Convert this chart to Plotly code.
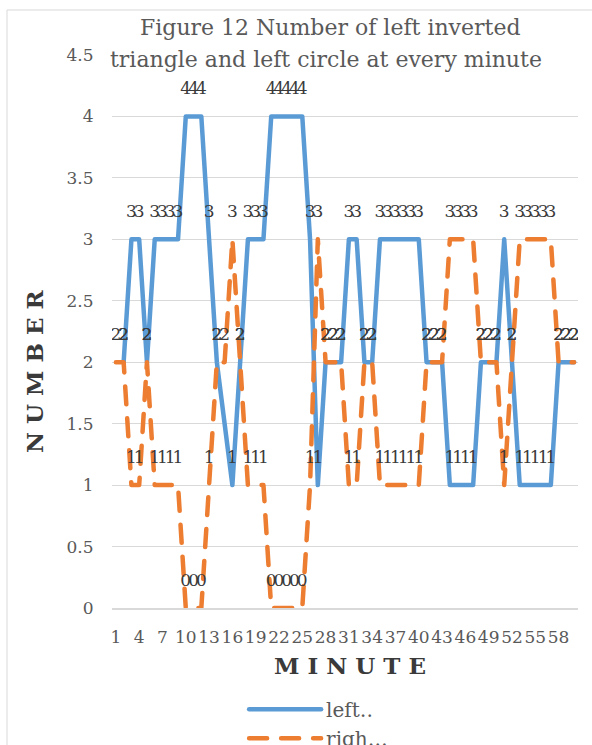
import plotly.graph_objects as go

# Counts per minute (1..60); None = no observation for that minute
minutes = list(range(1, 61))
left_counts = [None, 2, 3, 3, 2, 3, 3, 3, 3, 4,
               4, 4, 3, 2, None, 1, 2, 3, 3, 3,
               4, 4, 4, 4, 4, 3, 1, 2, 2, 2,
               3, 3, 2, 2, 3, 3, 3, 3, 3, 3,
               2, 2, 2, 1, 1, 1, 1, 2, 2, 2,
               3, 2, 1, 1, 1, 1, 1, 2, 2, 2]
right_counts = [2, 2, 1, 1, 2, 1, 1, 1, 1, 0,
                0, 0, 1, 2, 2, 3, 2, 1, 1, 1,
                0, 0, 0, 0, 0, 1, 3, 2, 2, 2,
                1, 1, 2, 2, 1, 1, 1, 1, 1, 1,
                2, 2, 2, 3, 3, 3, 3, 2, 2, 2,
                1, 2, 3, 3, 3, 3, 3, 2, 2, 2]
series_names = ["left‥", "righ…"]
x_ticks = minutes[::3]
title_lines = ["Figure 12 Number of left inverted",
               "triangle and left circle at every minute"]

BLUE = "#5B9BD5"
ORANGE = "#ED7D31"
SERIF = "DejaVu Serif"
LABEL_GREY = "#3a3a3a"
TICK_GREY = "#595959"
GRID = "#d9d9d9"

fig = go.Figure()

# the two lines
fig.add_trace(go.Scatter(x=minutes, y=left_counts, mode="lines", name=series_names[0],
                         connectgaps=True,
                         line=dict(color=BLUE, width=4.5)))
fig.add_trace(go.Scatter(x=minutes, y=right_counts, mode="lines", name=series_names[1],
                         line=dict(color=ORANGE, width=4.5, dash="18px,14px")))

# value labels above every point, drawn on top of both lines
for counts in (left_counts, right_counts):
    fig.add_trace(go.Scatter(
        x=minutes, y=counts, mode="markers+text",
        text=["" if v is None else str(v) for v in counts],
        textposition="top center",
        textfont=dict(family=SERIF, size=17, color=LABEL_GREY),
        marker=dict(size=27, color="rgba(0,0,0,0)"),
        showlegend=False, hoverinfo="skip"))

fig.update_layout(
    width=592, height=745,
    margin=dict(l=112, r=14, t=55, b=137, autoexpand=False),
    paper_bgcolor="white", plot_bgcolor="white",
    font=dict(family=SERIF, color=TICK_GREY),
    showlegend=True,
    legend=dict(orientation="v", x=0.2835, y=-0.148, xanchor="left", yanchor="top",
                font=dict(family=SERIF, size=20, color=TICK_GREY),
                itemwidth=72, tracegroupgap=0, bgcolor="rgba(0,0,0,0)"),
    xaxis=dict(range=[0.5, 60.5], tickmode="array", tickvals=x_ticks,
               ticktext=[str(t) for t in x_ticks], tickangle=0,
               showgrid=False, zeroline=False,
               showline=True, linecolor=GRID, linewidth=1.5,
               ticks="outside", ticklen=13, tickcolor="rgba(0,0,0,0)",
               tickfont=dict(family=SERIF, size=17, color=TICK_GREY)),
    yaxis=dict(range=[0, 4.5], dtick=0.5, tick0=0,
               showgrid=True, gridcolor=GRID, gridwidth=1.3,
               zeroline=False, showline=False,
               ticks="outside", ticklen=14, tickcolor="rgba(0,0,0,0)",
               tickfont=dict(family=SERIF, size=17, color=TICK_GREY)),
    shapes=[dict(type="rect", xref="paper", yref="paper",
                 x0=-0.2253, x1=1.06, y0=-0.3, y1=1.0814,
                 line=dict(color=GRID, width=1), layer="below")],
    annotations=[
        dict(text=title_lines[0], x=0.468, y=1.0506, xref="paper", yref="paper",
             xanchor="center", yanchor="middle", showarrow=False,
             font=dict(family=SERIF, size=22, color=TICK_GREY)),
        dict(text=title_lines[1], x=0.4592, y=0.991, xref="paper", yref="paper",
             xanchor="center", yanchor="middle", showarrow=False,
             font=dict(family=SERIF, size=22, color=TICK_GREY)),
        dict(text="<b>M I N U T E</b>", x=0.5107, y=-0.1031, xref="paper", yref="paper",
             xanchor="center", yanchor="middle", showarrow=False,
             font=dict(family=SERIF, size=23, color=LABEL_GREY)),
        dict(text="<b>N U M B E R</b>", x=-0.1652, y=0.4286, xref="paper", yref="paper",
             xanchor="center", yanchor="middle", showarrow=False, textangle=-90,
             font=dict(family=SERIF, size=23, color=LABEL_GREY)),
    ],
)

round_caps = (
    "document.querySelectorAll('.js-line').forEach(function(p){"
    "p.style.strokeLinecap='round';p.style.strokeLinejoin='round';});"
)
fig.write_html("out.html", post_script=round_caps)
